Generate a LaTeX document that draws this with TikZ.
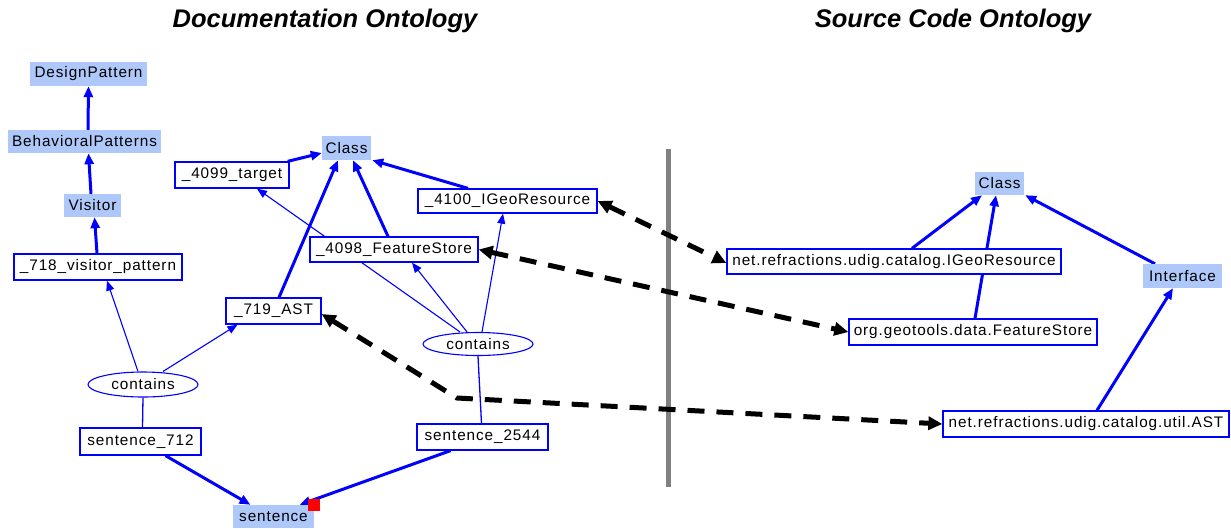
\documentclass[tikz,border=0pt]{standalone}
\usepackage{fontspec}
\setmainfont{Liberation Sans}
\newfontfamily\nodefont[LetterSpace=6]{Liberation Sans}
\usetikzlibrary{arrows.meta,shapes.geometric,backgrounds}
\definecolor{ublue}{RGB}{0,0,255}
\definecolor{lblue}{RGB}{175,200,250}
\definecolor{divgray}{RGB}{128,128,128}
\tikzset{
  base/.style={inner sep=0pt, font=\nodefont\fontsize{15.3}{18}\selectfont, text=black},
  concept/.style={base, rectangle, fill=lblue},
  inst/.style={base, rectangle, draw=ublue, line width=1.3pt, fill=white},
  rel/.style={base, ellipse, draw=ublue, line width=1.1pt, fill=white},
  thick edge/.style={draw=ublue, line width=3pt, -{Triangle[length=11pt,width=9pt]}},
  thin edge/.style={draw=ublue, line width=1.1pt, -{Triangle[length=10pt,width=8pt]}},
  plain edge/.style={draw=ublue, line width=1.3pt},
  map edge/.style={draw=black, line width=5pt, dash pattern=on 17pt off 12pt,
    {Triangle[length=14pt,width=13pt]}-{Triangle[length=14pt,width=13pt]}},
  title/.style={font=\fontsize{25.5}{30}\selectfont\bfseries\itshape, inner sep=0pt},
}
\begin{document}
\begin{tikzpicture}[x=1pt,y=-1pt]
\useasboundingbox (0,0) rectangle (1231,528);
% titles
\node[title] (t1) at (325,21) {Documentation Ontology};
\node[title] (t2) at (953,21) {Source Code Ontology};
% left ontology concepts
\node[concept, minimum width=117pt, minimum height=24pt] (dp) at (88.5,74) {DesignPattern};
\node[concept, minimum width=153pt, minimum height=23pt] (bp) at (84.5,141.5) {BehavioralPatterns};
\node[concept, minimum width=57pt, minimum height=23pt] (vis) at (92.5,205.5) {Visitor};
\node[concept, minimum width=49pt, minimum height=24pt] (cls) at (346.5,148) {Class};
\node[concept, minimum width=81pt, minimum height=23pt] (sent) at (273.5,516.5) {sentence};
% left instances
\node[inst, minimum width=168pt, minimum height=26pt] (v718) at (98,267) {\_718\_visitor\_pattern};
\node[inst, minimum width=114pt, minimum height=26pt] (t4099) at (232,175) {\_4099\_target};
\node[inst, minimum width=179pt, minimum height=24pt] (g4100) at (507.5,201) {\_4100\_IGeoResource};
\node[inst, minimum width=168pt, minimum height=25pt] (fs4098) at (394,249.5) {\_4098\_FeatureStore};
\node[inst, minimum width=95pt, minimum height=26pt] (ast719) at (273.5,311) {\_719\_AST};
\node[inst, minimum width=121pt, minimum height=27pt] (s712) at (140.5,441.5) {sentence\_712};
\node[inst, minimum width=131pt, minimum height=26pt] (s2544) at (482.5,437) {sentence\_2544};
\node[rel, minimum width=110pt, minimum height=25pt] (c1) at (143,384.5) {contains};
\node[rel, minimum width=110pt, minimum height=23pt] (c2) at (478,344) {contains};
% right ontology
\node[concept, minimum width=49pt, minimum height=23pt] (cls2) at (999.5,183.5) {Class};
\node[concept, minimum width=79pt, minimum height=24pt] (iface) at (1182.5,276) {Interface};
\node[inst, minimum width=334pt, minimum height=25pt] (nigeo) at (894,261.5) {net.refractions.udig.catalog.IGeoResource};
\node[inst, minimum width=248pt, minimum height=26pt] (ogt) at (973,332) {org.geotools.data.FeatureStore};
\node[inst, minimum width=286pt, minimum height=26pt] (nast) at (1086,424) {net.refractions.udig.catalog.util.AST};
% red marker
\node[fill=red, minimum size=12pt, inner sep=0pt] (mark) at (313.5,505) {};
\coordinate (bend) at (457,398);
\coordinate (divtop) at (668.5,149);
\coordinate (divbot) at (668.5,487);
\begin{pgfonlayer}{background}
\fill[white] (0,0) rectangle (1231,528);
\draw[divgray, line width=5pt] (divtop) -- (divbot);
% left hierarchy
\draw[thick edge] ([xshift=3.5pt]bp.north) -- (dp.south);
\draw[thick edge] ([xshift=-1.5pt]vis.north) -- ([xshift=4pt]bp.south);
\draw[thick edge] ([xshift=-1pt]v718.north) -- ([xshift=2pt]vis.south);
\draw[thin edge] ([xshift=-5pt]c1.north) -- ([xshift=9pt]v718.south);
\draw[thin edge] ([xshift=20pt]c1.north) -- ([xshift=-36pt]ast719.south);
\draw[plain edge] (c1.south) -- ([xshift=2pt]s712.north);
\draw[thick edge] ([xshift=25pt]s712.south) -- ([xshift=-23pt]sent.north);
\draw[thick edge] ([xshift=-32pt]s2544.south) -- ([xshift=26pt]sent.north);
\draw[plain edge] (c2.south) -- ([xshift=-1pt]s2544.north);
\draw[thin edge] ([xshift=-18pt]c2.north) -- ([xshift=25pt]t4099.south);
\draw[thin edge] ([xshift=-11pt]c2.north) -- ([xshift=18pt]fs4098.south);
\draw[thin edge] ([xshift=4pt]c2.north) -- ([xshift=-4.5pt]g4100.south);
\draw[thick edge] ([xshift=-2pt]t4099.north east) -- ([yshift=-5pt]cls.west);
\draw[thick edge] ([xshift=5.5pt]ast719.north) -- ([xshift=-8.5pt]cls.south);
\draw[thick edge] ([xshift=-6pt]fs4098.north) -- ([xshift=6.5pt]cls.south);
\draw[thick edge] ([xshift=-39.5pt]g4100.north) -- ([xshift=1pt]cls.south east);
% right hierarchy
\draw[thick edge] ([xshift=18pt]nigeo.north) -- ([xshift=-17.5pt]cls2.south);
\draw[thick edge] ([xshift=2pt]ogt.north) -- ([xshift=-3.5pt]cls2.south);
\draw[thick edge] ([xshift=-27.5pt]iface.north) -- ([xshift=1pt]cls2.south east);
\draw[thick edge] ([xshift=11pt]nast.north) -- ([xshift=-9.5pt]iface.south);
% mappings
\draw[map edge] (g4100.east) -- ([yshift=-1.5pt]nigeo.west);
\draw[map edge] (fs4098.east) -- (ogt.west);
\draw[map edge] ([yshift=-3pt]ast719.east) -- (bend) -- (nast.west);
\end{pgfonlayer}
\end{tikzpicture}
\end{document}
